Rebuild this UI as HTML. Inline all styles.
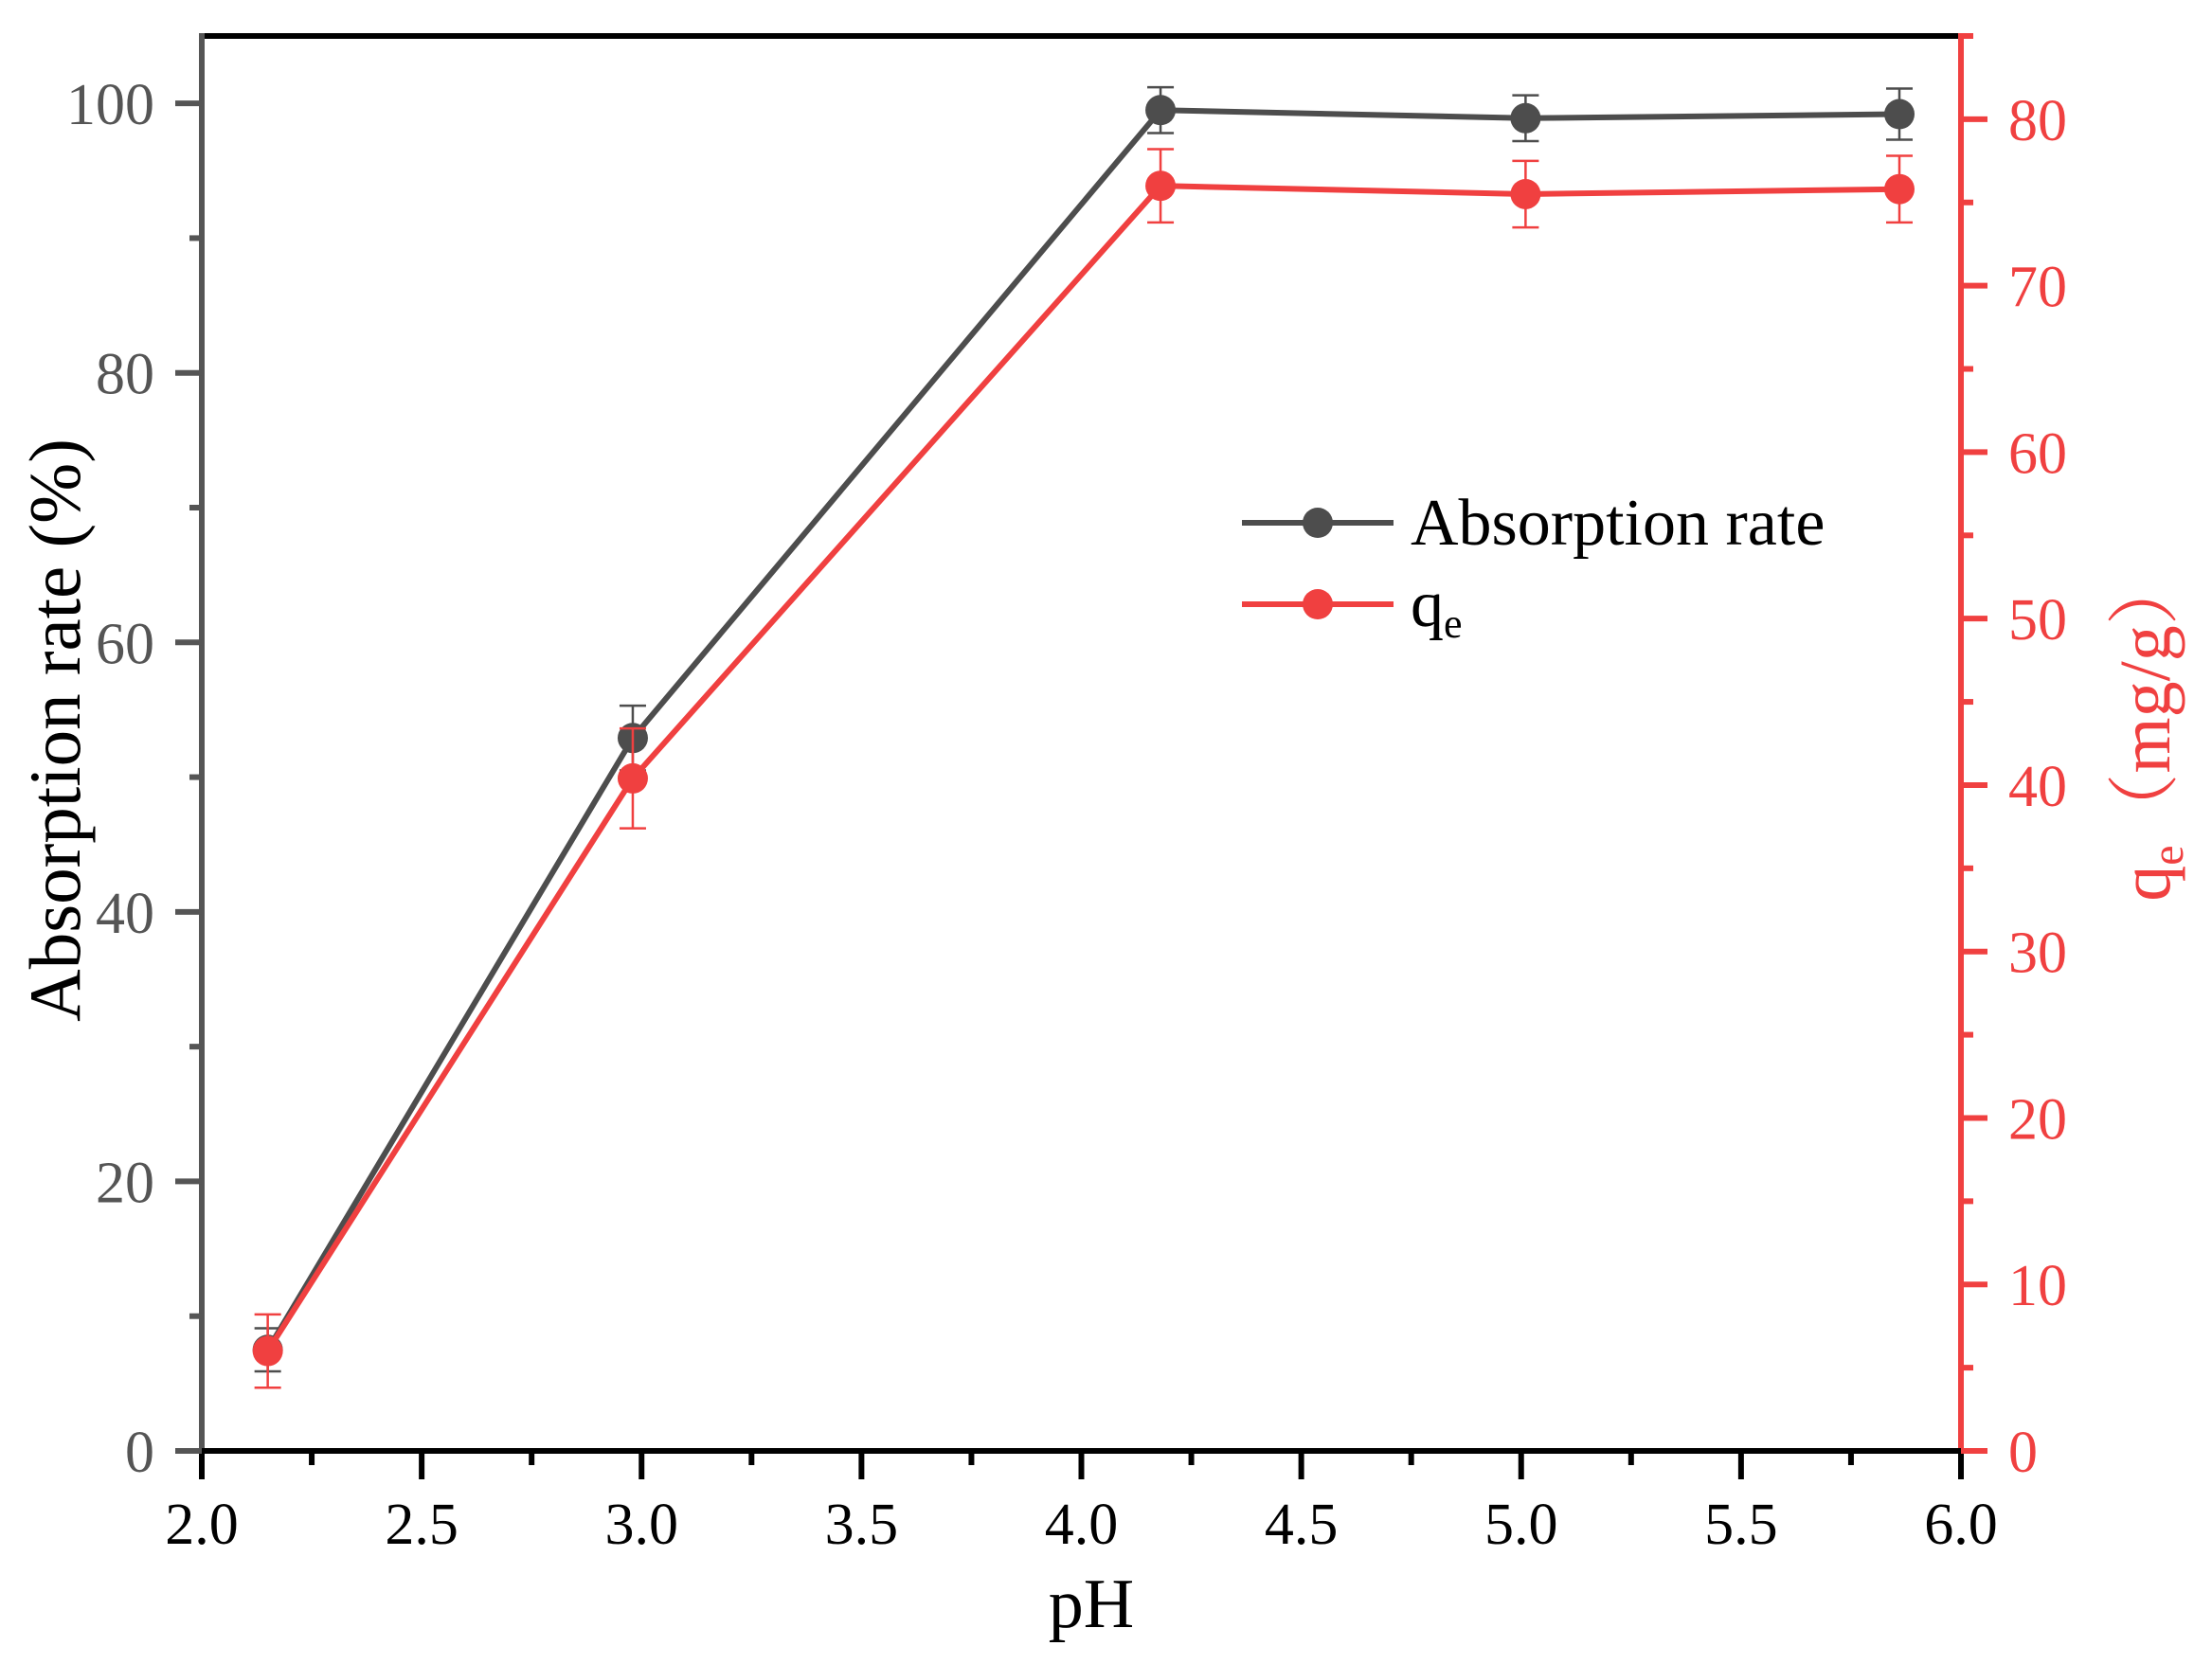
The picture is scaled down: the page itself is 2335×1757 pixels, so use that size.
<!DOCTYPE html>
<html><head><meta charset="utf-8"><style>body{margin:0;background:#fff}svg{display:block}</style></head>
<body>
<svg id="chart" width="2335" height="1757" xmlns="http://www.w3.org/2000/svg" font-family="'Liberation Serif', 'Noto Serif CJK SC', serif"></svg>
<script>
const phValues = [2.15, 2.98, 4.18, 5.01, 5.86];
const absorptionRate = [7.5, 52.9, 99.5, 98.9, 99.2];
const absorptionErr = [1.6, 2.4, 1.7, 1.7, 1.9];
const qeValues = [6.0, 40.4, 76.0, 75.5, 75.8];
const qeErr = [2.2, 3.0, 2.2, 2.0, 2.0];
const xTicks = [2.0, 2.5, 3.0, 3.5, 4.0, 4.5, 5.0, 5.5, 6.0];
const yLeftTicks = [0, 20, 40, 60, 80, 100];
const yRightTicks = [0, 10, 20, 30, 40, 50, 60, 70, 80];

const svg = document.getElementById('chart');
const NS = 'http://www.w3.org/2000/svg';
const L = 213, R = 2070, T = 38, B = 1532;
const xs = v => L + (v - 2) / 4 * (R - L);
const yl = v => B - v / 105 * (B - T);
const yr = v => B - v / 85 * (B - T);
const GRAY = '#4d4d4d', RED = '#f04040';
function el(tag, attrs, text) {
  const e = document.createElementNS(NS, tag);
  for (const k in attrs) e.setAttribute(k, attrs[k]);
  if (text !== undefined) e.textContent = text;
  svg.appendChild(e);
  return e;
}
let e;
e = el('line', {x1: L, y1: T, x2: R, y2: T, stroke: '#000', 'stroke-width': 6});


e = el('line', {x1: L, y1: T - 3, x2: L, y2: B + 3, stroke: '#555', 'stroke-width': 6});


e = el('line', {x1: R, y1: T - 3, x2: R, y2: B + 3, stroke: RED, 'stroke-width': 6});


e = el('line', {x1: L - 3, y1: B, x2: R, y2: B, stroke: '#000', 'stroke-width': 6});


xTicks.forEach((v, i) => {
  e = el('line', {x1: xs(v), y1: B, x2: xs(v), y2: B + 30, stroke: '#000', 'stroke-width': 6});
  
  
  if (i < xTicks.length - 1) {
    const m = (v + xTicks[i + 1]) / 2;
    e = el('line', {x1: xs(m), y1: B, x2: xs(m), y2: B + 15, stroke: '#000', 'stroke-width': 6});
    
    
  }
  e = el('text', {x: xs(v), y: 1630, 'text-anchor': 'middle', 'font-size': 62, fill: '#000'}, v.toFixed(1));
  
  
});
yLeftTicks.forEach((v, i) => {
  e = el('line', {x1: L - 28, y1: yl(v), x2: L, y2: yl(v), stroke: '#555', 'stroke-width': 6});
  
  
  if (i < yLeftTicks.length - 1) {
    const m = (v + yLeftTicks[i + 1]) / 2;
    e = el('line', {x1: L - 13, y1: yl(m), x2: L, y2: yl(m), stroke: '#555', 'stroke-width': 6});
    
    
  }
  e = el('text', {x: 163, y: yl(v) + 22, 'text-anchor': 'end', 'font-size': 62, fill: '#555'}, String(v));
  
  
});
yRightTicks.forEach((v, i) => {
  e = el('line', {x1: R, y1: yr(v), x2: R + 28, y2: yr(v), stroke: RED, 'stroke-width': 6});
  
  
  const m = v + 5;
  e = el('line', {x1: R, y1: yr(m), x2: R + 13, y2: yr(m), stroke: RED, 'stroke-width': 6});
  
  
  e = el('text', {x: 2120, y: yr(v) + 22, 'text-anchor': 'start', 'font-size': 62, fill: RED}, String(v));
  
  
});
function series(vals, errs, ys, color, name) {
  const pts = phValues.map((p, i) => xs(p) + ',' + ys(vals[i])).join(' ');
  e = el('polyline', {points: pts, fill: 'none', stroke: color, 'stroke-width': 6});
  
  
  phValues.forEach((p, i) => {
    const x = xs(p), y1 = ys(vals[i] + errs[i]), y2 = ys(vals[i] - errs[i]);
    e = el('path', {d: `M${x},${y1}V${y2}M${x-14},${y1}H${x+14}M${x-14},${y2}H${x+14}`, stroke: color, 'stroke-width': 2.5, fill: 'none'});
    
    
    e = el('circle', {cx: x, cy: ys(vals[i]), r: 16, fill: color});
    
    
  });
}
series(absorptionRate, absorptionErr, yl, GRAY, 'absorption-rate');
series(qeValues, qeErr, yr, RED, 'qe');
e = el('line', {x1: 1311, y1: 552, x2: 1471, y2: 552, stroke: GRAY, 'stroke-width': 6});


e = el('circle', {cx: 1391, cy: 552, r: 16, fill: GRAY});


e = el('text', {x: 1489, y: 575, 'font-size': 70, fill: '#000'}, 'Absorption rate');


e = el('line', {x1: 1311, y1: 638, x2: 1471, y2: 638, stroke: RED, 'stroke-width': 6});


e = el('circle', {cx: 1391, cy: 638, r: 16, fill: RED});


e = el('text', {x: 1489, y: 661, 'font-size': 70, fill: '#000'});
e.innerHTML = 'q<tspan font-size="44" dy="12">e</tspan>';


e = el('text', {x: 1152, y: 1718, 'text-anchor': 'middle', 'font-size': 74, fill: '#000'}, 'pH');


e = el('text', {x: 0, y: 0, 'text-anchor': 'middle', 'font-size': 77, fill: '#000', transform: 'translate(84,771) rotate(-90)'}, 'Absorption rate (%)');


e = el('text', {x: 0, y: 0, 'text-anchor': 'middle', 'font-size': 76, fill: RED, transform: 'translate(2290,768) rotate(-90)'});
e.innerHTML = 'q<tspan font-size="48" dy="14">e</tspan><tspan dy="-14">（mg/g）</tspan>';


</script>
</body></html>
